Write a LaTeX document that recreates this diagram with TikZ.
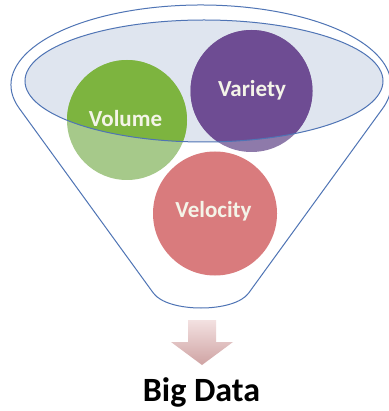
\documentclass[tikz,border=0pt]{standalone}
\usepackage{fontspec}
\setmainfont{Carlito}
\definecolor{funnelblue}{HTML}{4F74B5}
\definecolor{ellfill}{HTML}{DFE5EF}
\definecolor{greenD}{HTML}{7DB43F}
\definecolor{greenL}{HTML}{A6C98A}
\definecolor{purpD}{HTML}{6E4C93}
\definecolor{purpL}{HTML}{8E7AAA}
\definecolor{redL}{HTML}{D97B7D}
\definecolor{lbltext}{HTML}{F4F4E8}
\definecolor{arrtop}{HTML}{F3E1E1}
\definecolor{arrbot}{HTML}{CFA3A3}
\begin{document}
\begin{tikzpicture}[x=1pt,y=-1pt,
  outline/.style={draw=funnelblue,line width=1pt},
  ball/.style={circle,inner sep=0pt,minimum size=#1},
  lbl/.style={text=lbltext,font=\bfseries\fontsize{23}{23}\selectfont,anchor=base,inner sep=0pt},
  title/.style={text=black,font=\bfseries\fontsize{34}{34}\selectfont,anchor=base,inner sep=0pt}]
\useasboundingbox[fill=white] (0,0) rectangle (388,411);
% funnel
\draw[outline,fill=white] (19.3,108.4) arc[start angle=163,end angle=377,x radius=190,y radius=80]
  -- (248.7,293) .. controls (234.5,313) and (167.5,313) .. (153.3,293) -- cycle;
% inner ellipse fill
\fill[ellfill] (204,81) ellipse[x radius=179,y radius=61];
% circles (light)
\node[ball=120pt,fill=greenL] (vol) at (127,120) {};
\node[ball=122pt,fill=purpL] (var) at (251.5,91) {};
\node[ball=124pt,fill=redL] (vel) at (215,213.5) {};
% darker parts inside the ellipse
\begin{scope}
  \clip (204,81) ellipse[x radius=179,y radius=61];
  \fill[greenD] (vol.center) circle[radius=60];
  \fill[purpD] (var.center) circle[radius=61];
\end{scope}
\draw[outline] (204,81) ellipse[x radius=179,y radius=61];
% labels
\node[lbl] (tvol) at (125.5,126.5) {Volume};
\node[lbl] (tvar) at (252,97) {Variety};
\node[lbl] (tvel) at (213.5,218) {Velocity};
% arrow
\shade[top color=arrtop,bottom color=arrbot]
  (188,320) -- (216,320) -- (216,342) -- (233,342) -- (202,365) -- (171,342) -- (188,342) -- cycle;
\node[title] (bd) at (201.5,401) {Big Data};
\end{tikzpicture}
\end{document}
